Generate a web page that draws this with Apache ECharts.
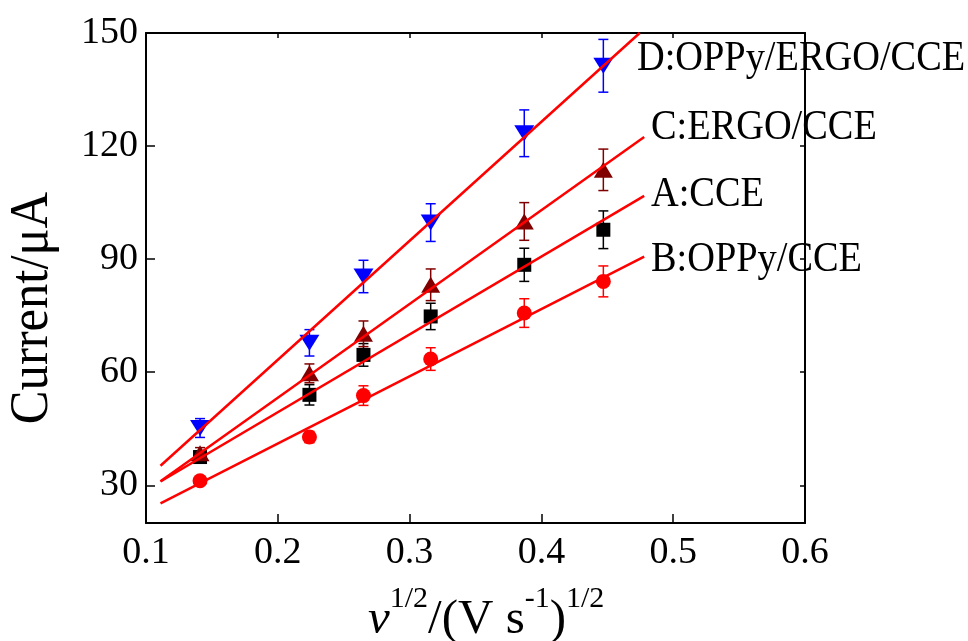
<!DOCTYPE html>
<html>
<head>
<meta charset="utf-8">
<script src="https://cdn.jsdelivr.net/npm/echarts@6/dist/echarts.min.js"></script>
<style>
  html, body { margin: 0; padding: 0; background: #fff; }
  #chart { width: 968px; height: 641px; }
</style>
</head>
<body>
<div id="chart"></div>
<script>
// v^1/2 values (sqrt of scan rate)
const sqrtRate = [0.141, 0.224, 0.265, 0.316, 0.387, 0.447];

const currentA = [37.5, 54.0, 64.6, 74.8, 88.5, 97.8];
const errA = [1.5, 2.7, 3.0, 3.5, 4.4, 5.0];
const currentB = [31.2, 42.8, 53.8, 63.5, 75.7, 84.1];
const errB = [1.0, 1.5, 2.6, 3.0, 3.8, 4.1];
const currentC = [38.5, 59.7, 70.2, 83.2, 100.0, 113.7];
const errC = [1.5, 2.5, 3.4, 4.2, 5.0, 5.5];
const currentD = [45.2, 67.8, 85.4, 99.7, 123.4, 141.3];
const errD = [2.5, 3.5, 4.3, 5.0, 6.2, 7.0];

// fitted lines, end points
const fitA = [[0.111, 31.0], [0.478, 106.8]];
const fitB = [[0.111, 25.2], [0.478, 90.7]];
const fitC = [[0.111, 31.1], [0.478, 122.4]];
const fitD = [[0.111, 35.2], [0.4746, 150.0]];

const yTicks = [30, 60, 90, 120, 150];
const labelNames = ["D:OPPy/ERGO/CCE", "C:ERGO/CCE", "A:CCE", "B:OPPy/CCE"];

const FONT = "Liberation Serif";
const chart = echarts.init(document.getElementById("chart"));

function errorBars(name, ys, errs, color) {
  return {
    name: name + " err",
    type: "custom",
    silent: true,
    z: 2,
    data: sqrtRate.map((x, i) => [x, ys[i] - errs[i], ys[i] + errs[i]]),
    encode: { x: 0, y: [1, 2] },
    renderItem(params, api) {
      const lo = api.coord([api.value(0), api.value(1)]);
      const hi = api.coord([api.value(0), api.value(2)]);
      const w = 5;
      const style = { stroke: color, lineWidth: 1.5, fill: null };
      return {
        type: "group",
        children: [
          { type: "line", shape: { x1: lo[0], y1: lo[1], x2: hi[0], y2: hi[1] }, style },
          { type: "line", shape: { x1: lo[0] - w, y1: lo[1], x2: lo[0] + w, y2: lo[1] }, style },
          { type: "line", shape: { x1: hi[0] - w, y1: hi[1], x2: hi[0] + w, y2: hi[1] }, style },
        ],
      };
    },
  };
}

function points(name, ys, symbol, size, color, rotate) {
  return {
    name,
    type: "scatter",
    silent: true,
    z: 3,
    symbol,
    symbolSize: size,
    symbolRotate: rotate || 0,
    itemStyle: { color, opacity: 1 },
    data: sqrtRate.map((x, i) => [x, ys[i]]),
  };
}

function fitLine(name, pts) {
  return {
    name: name + " fit",
    type: "line",
    silent: true,
    z: 4,
    showSymbol: false,
    symbol: "none",
    data: pts,
    lineStyle: { color: "#ff0000", width: 2.5 },
  };
}

function curveLabel(text, left, top) {
  return {
    type: "text", left, top, scaleX: 0.913,
    style: { text, fill: "#000", font: "42px " + FONT },
  };
}

const xAxisBase = {
  type: "value",
  min: 0.1,
  max: 0.6,
  interval: 0.1,
  splitLine: { show: false },
  axisLine: { lineStyle: { color: "#000", width: 2 } },
};
const yAxisBase = {
  type: "value",
  min: 20,
  max: 150,
  splitLine: { show: false },
  axisLine: { show: true, lineStyle: { color: "#000", width: 2 } },
};

const option = {
  animation: false,
  backgroundColor: "#fff",
  grid: { left: 146, right: 163, top: 33, bottom: 118 },
  xAxis: [
    Object.assign({}, xAxisBase, {
      position: "bottom",
      axisTick: { inside: true, length: 9, lineStyle: { color: "#000", width: 1.5 } },
      axisLabel: { color: "#000", fontFamily: FONT, fontSize: 38, margin: 11 },
    }),
    Object.assign({}, xAxisBase, {
      position: "top",
      axisTick: { inside: true, length: 5, lineStyle: { color: "#000", width: 1.5 } },
      axisLabel: { show: false },
    }),
  ],
  yAxis: [
    Object.assign({}, yAxisBase, {
      position: "left",
      axisTick: { inside: true, length: 9, customValues: yTicks, lineStyle: { color: "#000", width: 1.5 } },
      axisLabel: { color: "#000", fontFamily: FONT, fontSize: 38, margin: 8, customValues: yTicks },
    }),
    Object.assign({}, yAxisBase, {
      position: "right",
      axisTick: { inside: true, length: 5, customValues: yTicks, lineStyle: { color: "#000", width: 1.5 } },
      axisLabel: { show: false },
    }),
  ],
  series: [
    errorBars("A", currentA, errA, "#000000"),
    errorBars("B", currentB, errB, "#ff0000"),
    errorBars("C", currentC, errC, "#800000"),
    errorBars("D", currentD, errD, "#0000ff"),
    points("A", currentA, "rect", 14, "#000000"),
    points("B", currentB, "circle", 15, "#ff0000"),
    points("C", currentC, "triangle", [19, 16], "#800000"),
    points("D", currentD, "triangle", [20, 16], "#0000ff", 180),
    fitLine("A", fitA),
    fitLine("B", fitB),
    fitLine("C", fitC),
    fitLine("D", fitD),
  ],
  graphic: [
    curveLabel(labelNames[0], 637, 38),
    curveLabel(labelNames[1], 651, 107),
    curveLabel(labelNames[2], 651, 174),
    curveLabel(labelNames[3], 651, 239),
    {
      type: "text", x: 33, y: 308, rotation: Math.PI / 2, scaleX: 0.92,
      style: {
        text: "Current/μA", fill: "#000", font: "55px " + FONT,
        align: "center", verticalAlign: "middle",
      },
    },
    {
      type: "text", left: 368, top: 584,
      style: {
        text: "{v|v}{s|1/2}{n|/(V s}{s|-1}{n|)}{s|1/2}",
        fill: "#000",
        rich: {
          v: { fontFamily: FONT, fontStyle: "italic", fontSize: 49, verticalAlign: "bottom" },
          n: { fontFamily: FONT, fontSize: 49, verticalAlign: "bottom" },
          s: { fontFamily: FONT, fontSize: 30, verticalAlign: "bottom", padding: [0, 0, 31, 0] },
        },
      },
    },
  ],
};

chart.setOption(option);
</script>
</body>
</html>
